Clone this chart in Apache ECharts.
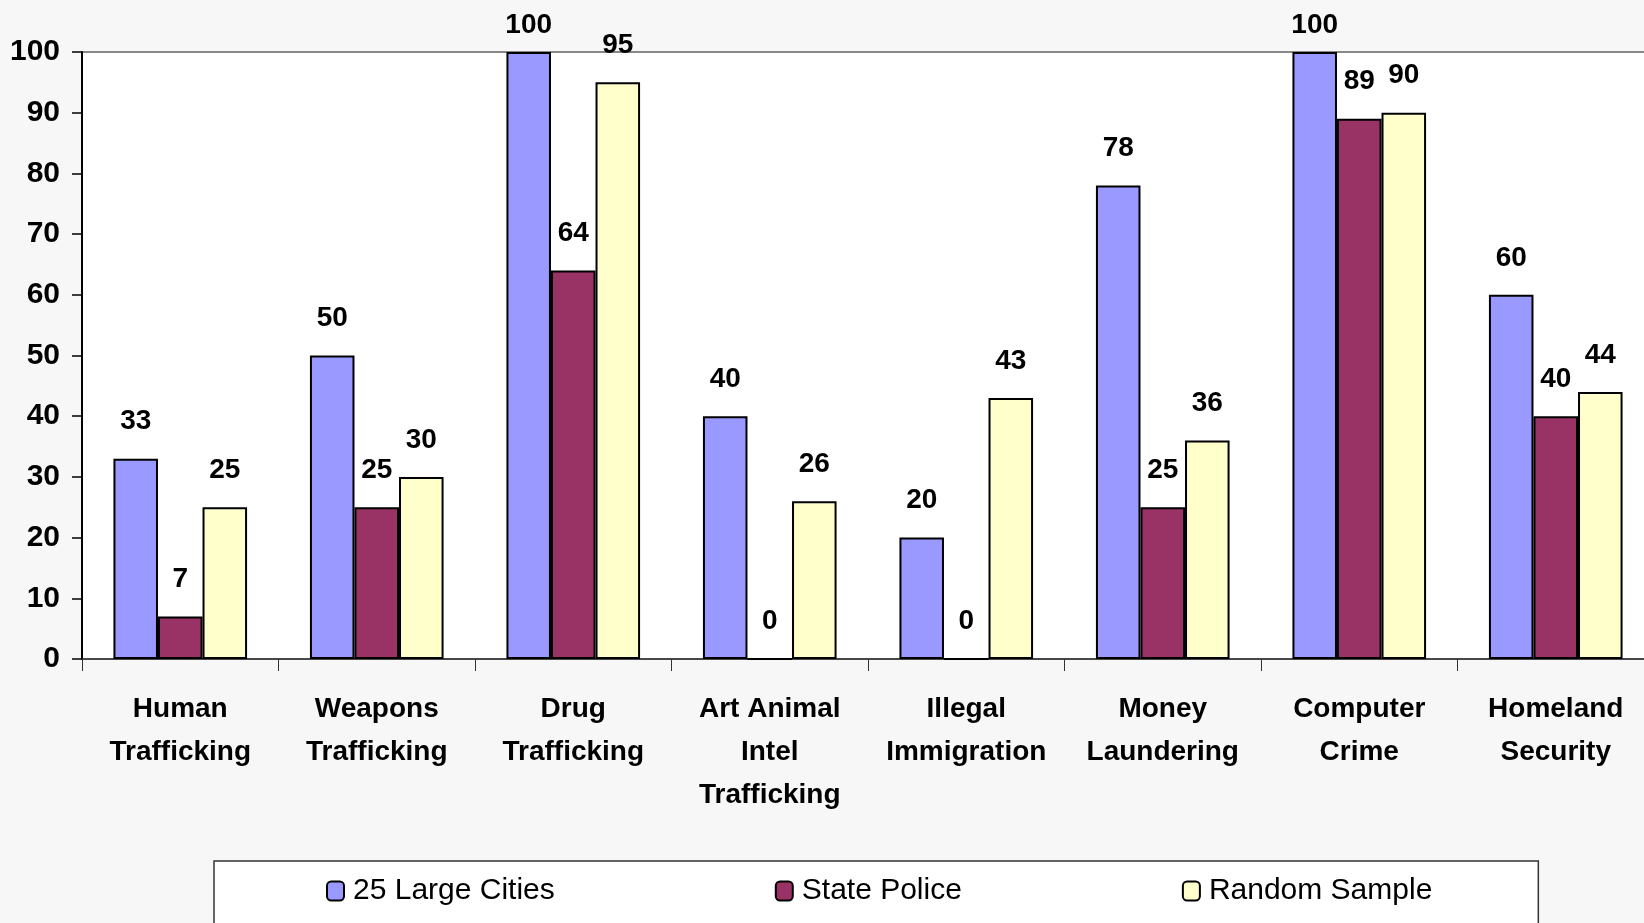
<!DOCTYPE html>
<html>
<head>
<meta charset="utf-8">
<script src="https://cdn.jsdelivr.net/npm/echarts@6/dist/echarts.min.js"></script>
<style>
html,body{margin:0;padding:0;background:#f7f7f7;}
#chart{width:1644px;height:923px;}
</style>
</head>
<body>
<div id="chart"></div>
<script>
const categories = ['Human\nTrafficking','Weapons\nTrafficking','Drug\nTrafficking','Art Animal\nIntel\nTrafficking','Illegal\nImmigration','Money\nLaundering','Computer\nCrime','Homeland\nSecurity'];
const seriesNames = ['25 Large Cities','State Police','Random Sample'];
const largeCities = [33, 50, 100, 40, 20, 78, 100, 60];
const statePolice = [7, 25, 64, 0, 0, 25, 89, 40];
const randomSample = [25, 30, 95, 26, 43, 36, 90, 44];
const yTicks = [0,10,20,30,40,50,60,70,80,90,100];

const colors = ['#9999FF','#993366','#FFFFCC'];
const font = '"Liberation Sans", Arial, sans-serif';
const seriesData = [largeCities, statePolice, randomSample];
const yMax = 100;

const chart = echarts.init(document.getElementById('chart'));
chart.setOption({
  backgroundColor:'#f7f7f7',
  animation:false,
  grid:{left:82, top:52, width:1572, height:607, outerBoundsMode:'none', containLabel:false,
    show:true, backgroundColor:'#ffffff', borderColor:'#888888', borderWidth:2},
  legend:{
    data:seriesNames, left:214, top:861, orient:'horizontal',
    padding:[15,106,40,112], itemGap:220,
    backgroundColor:'#ffffff', borderColor:'#333333', borderWidth:1.5,
    itemWidth:17, itemHeight:19,
    textStyle:{fontFamily:font, fontSize:30, color:'#000', padding:[0,0,0,4]}
  },
  xAxis:{
    type:'category', data:categories,
    axisLine:{lineStyle:{color:'#333', width:1.5}},
    axisTick:{show:true, length:12, lineStyle:{color:'#333'}},
    axisLabel:{fontFamily:font, fontWeight:'bold', fontSize:28, color:'#000', lineHeight:43, margin:29, interval:0}
  },
  yAxis:{
    type:'value', min:0, max:yMax, interval:10,
    splitLine:{show:false},
    axisLine:{show:true, lineStyle:{color:'#000', width:2}},
    axisTick:{show:true, length:10, lineStyle:{color:'#000', width:1.5}},
    axisLabel:{fontFamily:font, fontWeight:'bold', fontSize:30, color:'#000', margin:22,
      formatter:v=>yTicks.includes(v)?String(v):''}
  },
  series:seriesData.map((d,i)=>({
    name:seriesNames[i], type:'bar',
    data:d.map(v=>v>=yMax?{value:v,label:{distance:13}}:v),
    barGap:'0%', barCategoryGap:'32%',
    itemStyle:{color:colors[i], borderColor:'#000', borderWidth:2},
    label:{show:true, position:'top', distance:23, fontFamily:font, fontWeight:'bold', fontSize:28, color:'#000'}
  }))
});
</script>
</body>
</html>
